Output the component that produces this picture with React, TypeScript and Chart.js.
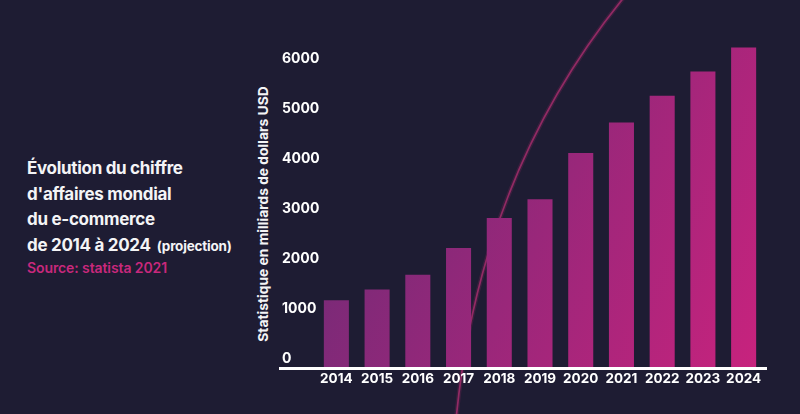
import React, { useEffect, useRef } from "react";
import { Chart, registerables } from "chart.js";

Chart.register(...registerables);

const years = ["2014", "2015", "2016", "2017", "2018", "2019", "2020", "2021", "2022", "2023", "2024"];
const revenue = [1336, 1548, 1845, 2382, 2982, 3354, 4280, 4891, 5424, 5908, 6388];
const yTickValues = [0, 1000, 2000, 3000, 4000, 5000, 6000];

const titleLines = ["Évolution du chiffre", "d'affaires mondial", "du e-commerce", "de 2014 à 2024"];
const titleNote = "(projection)";
const sourceText = "Source: statista 2021";
const yAxisTitle = "Statistique en milliards de dollars USD";

const BG = "#1e1c33";
const FONT = "Inter, 'Noto Sans', sans-serif";

const baseLinePlugin = {
  id: "baseLine",
  afterDatasetsDraw(chart: any) {
    const { ctx, chartArea } = chart;
    const y = chart.scales.y.getPixelForValue(0);
    ctx.save();
    ctx.strokeStyle = "#ffffff";
    ctx.lineWidth = 3;
    ctx.beginPath();
    ctx.moveTo(chartArea.left - 37, y + 1.5);
    ctx.lineTo(chartArea.right + 3, y + 1.5);
    ctx.stroke();
    ctx.restore();
  },
};

function barGradient(context: any) {
  const chart = context.chart;
  const { ctx, chartArea } = chart;
  if (!chartArea) return "#8a2a78";
  const w = chartArea.right - chartArea.left;
  const h = chartArea.bottom - chartArea.top;
  const g = ctx.createLinearGradient(chartArea.left, chartArea.top, chartArea.left + w * 1.14, chartArea.top + h * 0.83);
  g.addColorStop(0, "rgb(101,44,118)");
  g.addColorStop(1, "rgb(206,34,126)");
  return g;
}

export default function App() {
  const canvasRef = useRef<HTMLCanvasElement | null>(null);

  useEffect(() => {
    if (!canvasRef.current) return;
    const chart = new Chart(canvasRef.current, {
      type: "bar",
      data: {
        labels: years,
        datasets: [
          {
            data: revenue,
            backgroundColor: barGradient,
            borderWidth: 0,
            barPercentage: 0.615,
            categoryPercentage: 1,
          },
        ],
      },
      plugins: [baseLinePlugin],
      options: {
        responsive: false,
        animation: false,
        maintainAspectRatio: false,
        layout: { padding: { left: 12, right: 36, top: 42, bottom: 0 } },
        plugins: {
          legend: { display: false },
          tooltip: { enabled: false },
          title: { display: false },
        },
        scales: {
          x: {
            grid: { display: false, drawTicks: false },
            border: { display: false },
            ticks: {
              color: "#ffffff",
              font: { family: FONT, size: 13.5, weight: "bold" },
              padding: 4,
              maxRotation: 0,
              autoSkip: false,
            },
            afterFit: (scale: any) => {
              scale.height = 47;
            },
          },
          y: {
            min: 0,
            max: 6500,
            grid: { display: false, drawTicks: false },
            border: { display: false },
            afterBuildTicks: (scale: any) => {
              scale.ticks = yTickValues.map((v) => ({ value: v }));
            },
            ticks: {
              color: "#ffffff",
              font: { family: FONT, size: 14, weight: "bold" },
              mirror: true,
              crossAlign: "near",
              padding: -34,
              labelOffset: -8,
              callback: (v: any) => String(v),
            },
            afterFit: (scale: any) => {
              scale.width = 34;
            },
          },
        },
      },
    });
    return () => chart.destroy();
  }, []);

  return (
    <div
      style={{
        position: "fixed",
        left: 0,
        top: 0,
        width: 800,
        height: 414,
        background: BG,
        overflow: "hidden",
        fontFamily: FONT,
      }}
    >
      <svg width={800} height={414} style={{ position: "absolute", left: 0, top: 0 }}>
        <path d="M 630 -10 Q 480 170 456 420" stroke="#9a2b66" strokeOpacity={0.22} strokeWidth={4.5} fill="none" />
        <path d="M 630 -10 Q 480 170 456 420" stroke="#922a64" strokeWidth={1.7} fill="none" />
      </svg>

      <div
        style={{
          position: "absolute",
          left: 27,
          top: 156,
          color: "#f4f4f6",
          fontSize: 17,
          fontWeight: 700,
          lineHeight: "25.7px",
          letterSpacing: "-0.3px",
          whiteSpace: "nowrap",
        }}
      >
        {titleLines.map((line, i) => (
          <div key={i}>
            {line}
            {i === titleLines.length - 1 ? (
              <span style={{ fontSize: 13.5, marginLeft: 6, letterSpacing: "-0.2px" }}>{titleNote}</span>
            ) : null}
          </div>
        ))}
      </div>
      <div
        style={{
          position: "absolute",
          left: 27,
          top: 259,
          color: "#c8287c",
          fontSize: 14,
          fontWeight: 600,
          lineHeight: "18px",
          letterSpacing: "-0.1px",
          whiteSpace: "nowrap",
        }}
      >
        {sourceText}
      </div>

      <div
        style={{
          position: "absolute",
          left: 263,
          top: 214,
          transform: "translate(-50%, -50%) rotate(-90deg)",
          color: "#f4f4f6",
          fontSize: 13.8,
          fontWeight: 700,
          whiteSpace: "nowrap",
          lineHeight: "16px",
        }}
      >
        {yAxisTitle}
      </div>

      <canvas
        ref={canvasRef}
        width={530}
        height={414}
        style={{ position: "absolute", left: 270, top: 0, width: 530, height: 414 }}
      />
    </div>
  );
}
